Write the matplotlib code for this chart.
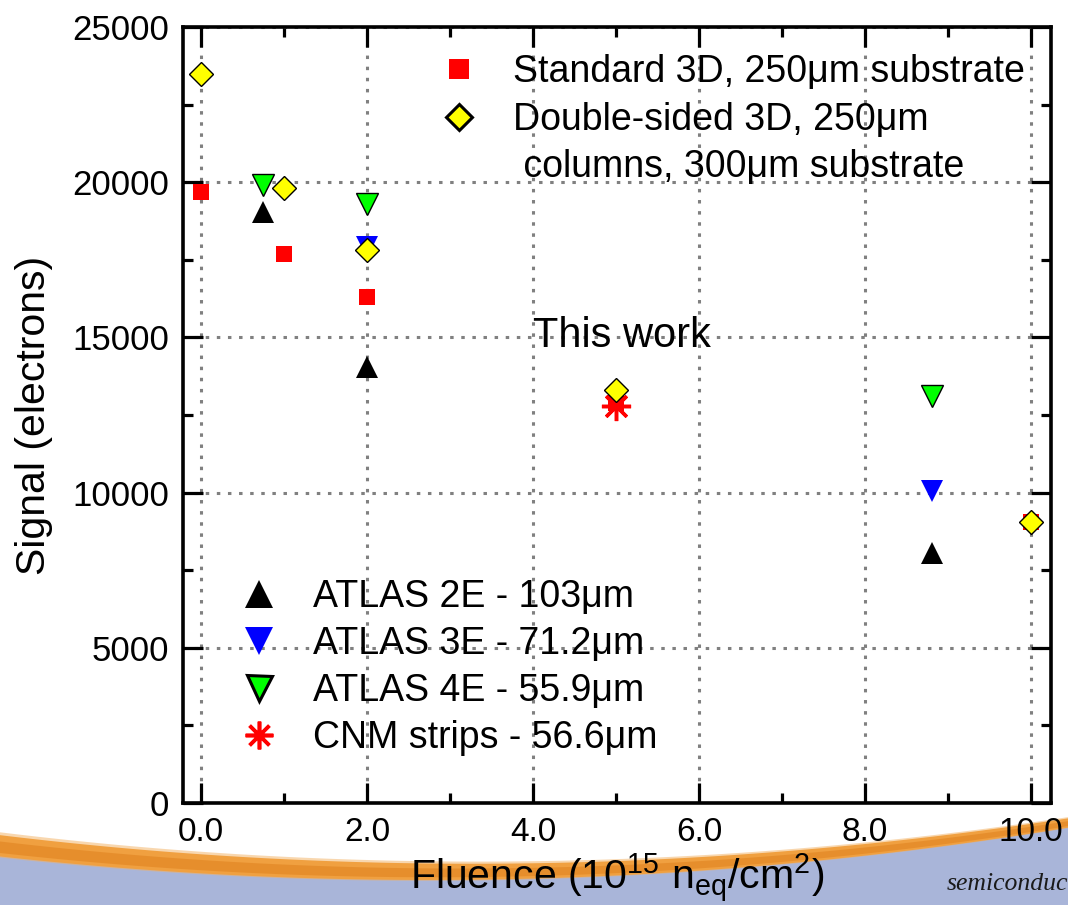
import numpy as np
import matplotlib
matplotlib.use("Agg")
import matplotlib.pyplot as plt
from matplotlib.lines import Line2D

plt.rcParams['font.family'] = ['Liberation Sans', 'DejaVu Sans']
plt.rcParams['mathtext.fontset'] = 'custom'
plt.rcParams['mathtext.rm'] = 'Liberation Sans'
plt.rcParams['mathtext.it'] = 'Liberation Sans:italic'
plt.rcParams['lines.scale_dashes'] = False

# ---------------- data ----------------
std_x = [0.0, 1.0, 2.0, 5.0, 10.0]
std_y = [19700, 17700, 16300, 12900, 9050]

ds_x = [0.0, 1.0, 2.0, 5.0, 10.0]
ds_y = [23500, 19800, 17800, 13300, 9050]

a2e_x = [0.75, 2.0, 8.8]
a2e_y = [19050, 14050, 8050]

a3e_x = [2.0, 8.8]
a3e_y = [17900, 10050]

a4e_x = [0.75, 2.0, 8.8]
a4e_y = [19900, 19300, 13100]

cnm_x = [5.0]
cnm_y = [12800]

xticks = [0, 2, 4, 6, 8, 10]
xticklabels = ['0.0', '2.0', '4.0', '6.0', '8.0', '10.0']
yticks = [0, 5000, 10000, 15000, 20000, 25000]

lab_std = 'Standard 3D, 250\u03bcm substrate'
lab_ds1 = 'Double-sided 3D, 250\u03bcm'
lab_ds2 = ' columns, 300\u03bcm substrate'
lab_a2e = 'ATLAS 2E - 103\u03bcm'
lab_a3e = 'ATLAS 3E - 71.2\u03bcm'
lab_a4e = 'ATLAS 4E - 55.9\u03bcm'
lab_cnm = 'CNM strips - 56.6\u03bcm'

W, H = 1068, 905
fig = plt.figure(figsize=(W / 100, H / 100), dpi=100, facecolor='white')

# ---------------- slide background decoration ----------------
bg = fig.add_axes([0, 0, 1, 1], zorder=-5)
bg.set_xlim(0, W)
bg.set_ylim(H, 0)
bg.axis('off')
px = np.linspace(0, W, 400)
centre = 872 - 1.28e-4 * (px - 450) ** 2
half = 11.5 - 6.5 * px / W
bg.fill_between(px, centre + half * 0.7, H + 5, color='#a9b5d9', lw=0)
bg.fill_between(px, centre - half * 1.2, centre + half,
                color='#f3b060', alpha=0.5, lw=0)
bg.fill_between(px, centre - half * 0.95, centre + half * 0.9,
                color='#f0a040', lw=0)
bg.fill_between(px, centre - half * 0.4, centre + half * 0.6,
                color='#e48a28', alpha=0.8, lw=0)
bg.text(947, 890, 'semiconduc', fontsize=18.5, style='italic',
        family=['Liberation Serif', 'DejaVu Serif'], color='#1a1a1a',
        ha='left', va='baseline')

# ---------------- main axes ----------------
L, R, T, B = 183, 1051, 27, 803
ax = fig.add_axes([L / W, 1 - B / H, (R - L) / W, (B - T) / H])
ax.set_xlim(-0.22, 10.24)
ax.set_ylim(0, 25000)

ax.plot(std_x, std_y, linestyle='none', marker='s', ms=12.2,
        mfc='#ff0000', mec='#ff0000', mew=0, zorder=3)
ax.plot(a2e_x, a2e_y, linestyle='none', marker='^', ms=16.5,
        mfc='black', mec='black', mew=0, zorder=3)
ax.plot(a3e_x, a3e_y, linestyle='none', marker='v', ms=16.5,
        mfc='#0000ff', mec='#0000ff', mew=0, zorder=3)
ax.plot(a4e_x, a4e_y, linestyle='none', marker='v', ms=15.5,
        mfc='#00ff00', mec='black', mew=1.0, zorder=3)
ax.plot(cnm_x, cnm_y, linestyle='none', marker=(8, 2, 0), ms=21,
        mfc='#ff0000', mec='#ff0000', mew=2.5, zorder=4)
ax.plot(ds_x, ds_y, linestyle='none', marker='D', ms=11.8,
        mfc='#ffff00', mec='black', mew=1.0, zorder=5)

ax.text(4.0, 15050, 'This work', fontsize=30, ha='left', va='center',
        zorder=6)

# ticks
ax.set_xticks(xticks)
ax.set_xticklabels(xticklabels)
ax.set_xticks([1, 3, 5, 7, 9], minor=True)
ax.set_yticks(yticks)
ax.set_yticks([2500, 7500, 12500, 17500, 22500], minor=True)
ax.tick_params(which='both', direction='in', top=True, right=True,
               width=2.3, color='black')
ax.tick_params(which='major', length=14.5)
ax.tick_params(which='minor', length=7.5)
ax.tick_params(axis='x', which='major', labelsize=24, pad=10)
ax.tick_params(axis='y', which='major', labelsize=25, pad=10)
for s in ax.spines.values():
    s.set_linewidth(2.6)

ax.grid(True, which='major', color='#808080', linewidth=2.2,
        linestyle=(0, (2.5, 5.5)))
ax.set_axisbelow(True)

ax.set_ylabel('Signal (electrons)', fontsize=29.5, labelpad=14)
ax.set_xlabel(r'Fluence ($\mathregular{10^{15}\ n_{eq}/cm^{2}}$)',
              fontsize=29.5, labelpad=2.5)

# legends
h_std = Line2D([], [], linestyle='none', marker='s', ms=15,
               mfc='#ff0000', mec='#ff0000', mew=0)
h_ds = Line2D([], [], linestyle='none', marker='D', ms=13,
              mfc='#ffff00', mec='black', mew=2.2)
h_blank = Line2D([], [], linestyle='none', marker=None)
leg1 = ax.legend([h_std, h_ds, h_blank], [lab_std, lab_ds1, lab_ds2],
                 loc='upper left', bbox_to_anchor=(0.296, 0.9647),
                 frameon=False, fontsize=27, handlelength=1.0,
                 handletextpad=0.94, labelspacing=0.3, borderpad=0,
                 borderaxespad=0)
ax.add_artist(leg1)

h_a2e = Line2D([], [], linestyle='none', marker='^', ms=19.5,
               mfc='black', mec='black', mew=0)
h_a3e = Line2D([], [], linestyle='none', marker='v', ms=19.5,
               mfc='#0000ff', mec='#0000ff', mew=0)
h_a4e = Line2D([], [], linestyle='none', marker='v', ms=18,
               mfc='#00ff00', mec='black', mew=2.2)
h_cnm = Line2D([], [], linestyle='none', marker=(8, 2, 0), ms=20,
               mfc='#ff0000', mec='#ff0000', mew=2.6)
ax.legend([h_a2e, h_a3e, h_a4e, h_cnm], [lab_a2e, lab_a3e, lab_a4e, lab_cnm],
          loc='lower left', bbox_to_anchor=(0.0657, 0.06),
          frameon=False, fontsize=27, handlelength=1.0,
          handletextpad=0.94, labelspacing=0.3, borderpad=0,
          borderaxespad=0)

fig.savefig('out.png', dpi=100, facecolor='white')
